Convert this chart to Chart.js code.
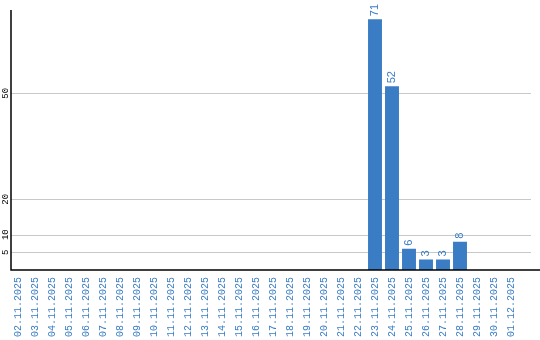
<!DOCTYPE html>
<html>
<head>
<meta charset="utf-8">
<script src="https://cdn.jsdelivr.net/npm/chart.js@4"></script>
<style>
  html, body { margin: 0; padding: 0; background: #fff; }
  #wrap { width: 540px; height: 340px; position: relative; }
</style>
</head>
<body>
<div id="wrap"><canvas id="bars"></canvas></div>
<script>
const days = [
  '02.11.2025', '03.11.2025', '04.11.2025', '05.11.2025', '06.11.2025', '07.11.2025',
  '08.11.2025', '09.11.2025', '10.11.2025', '11.11.2025', '12.11.2025', '13.11.2025',
  '14.11.2025', '15.11.2025', '16.11.2025', '17.11.2025', '18.11.2025', '19.11.2025',
  '20.11.2025', '21.11.2025', '22.11.2025', '23.11.2025', '24.11.2025', '25.11.2025',
  '26.11.2025', '27.11.2025', '28.11.2025', '29.11.2025', '30.11.2025', '01.12.2025'
];
const counts = [
  0, 0, 0, 0, 0, 0, 0, 0, 0, 0, 0, 0, 0, 0, 0, 0, 0, 0, 0, 0, 0,
  71, 52, 6, 3, 3, 8, 0, 0, 0
];
const yTicks = [5, 10, 20, 50];

const BLUE = '#3a7dc5';

// grid, axes, rotated y labels and bar values
const extras = {
  id: 'extras',
  beforeDatasetsDraw(chart) {
    const { ctx } = chart;
    const y = chart.scales.y;
    ctx.save();
    ctx.strokeStyle = '#c8c8c8';
    ctx.lineWidth = 1;
    yTicks.forEach(t => {
      const py = Math.round(y.getPixelForValue(t)) + 0.5;
      ctx.beginPath();
      ctx.moveTo(11, py);
      ctx.lineTo(531, py);
      ctx.stroke();
    });
    ctx.fillStyle = '#000';
    ctx.font = '9px "Liberation Mono"';
    ctx.textAlign = 'center';
    ctx.textBaseline = 'middle';
    yTicks.forEach(t => {
      ctx.save();
      ctx.translate(6, y.getPixelForValue(t));
      ctx.rotate(-Math.PI / 2);
      ctx.fillText(String(t), 0, 0);
      ctx.restore();
    });
    ctx.restore();
  },
  afterDatasetsDraw(chart) {
    const { ctx } = chart;
    const y = chart.scales.y;
    const base = y.getPixelForValue(0);
    const top = y.getPixelForValue(y.max);
    ctx.save();
    ctx.strokeStyle = '#000';
    ctx.lineWidth = 1.5;
    ctx.beginPath();
    ctx.moveTo(11, top);
    ctx.lineTo(11, base);
    ctx.lineTo(540, base);
    ctx.stroke();

    ctx.fillStyle = BLUE;
    ctx.font = '11px "Liberation Sans"';
    ctx.textAlign = 'left';
    ctx.textBaseline = 'middle';
    const meta = chart.getDatasetMeta(0);
    meta.data.forEach((bar, i) => {
      if (!counts[i]) return;
      ctx.save();
      ctx.translate(bar.x, bar.y - 3);
      ctx.rotate(-Math.PI / 2);
      ctx.fillText(String(counts[i]), 0, 0);
      ctx.restore();
    });
    ctx.restore();
  }
};

new Chart(document.getElementById('bars'), {
  type: 'bar',
  data: {
    labels: days,
    datasets: [{
      data: counts,
      backgroundColor: BLUE,
      borderWidth: 0,
      barPercentage: 0.82,
      categoryPercentage: 1
    }]
  },
  options: {
    responsive: true,
    maintainAspectRatio: false,
    animation: false,
    layout: { padding: { left: 9.5, right: 20.5, top: 10, bottom: 0 } },
    plugins: { legend: { display: false }, tooltip: { enabled: false } },
    scales: {
      x: {
        grid: { display: false, drawTicks: false },
        border: { display: false },
        ticks: {
          color: BLUE,
          font: { family: 'Liberation Mono', size: 10 },
          minRotation: 90,
          maxRotation: 90,
          autoSkip: false,
          padding: 7
        },
        afterFit: s => { s.height = 70; }
      },
      y: {
        display: false,
        min: 0,
        max: 73.6
      }
    }
  },
  plugins: [extras]
});
</script>
</body>
</html>
